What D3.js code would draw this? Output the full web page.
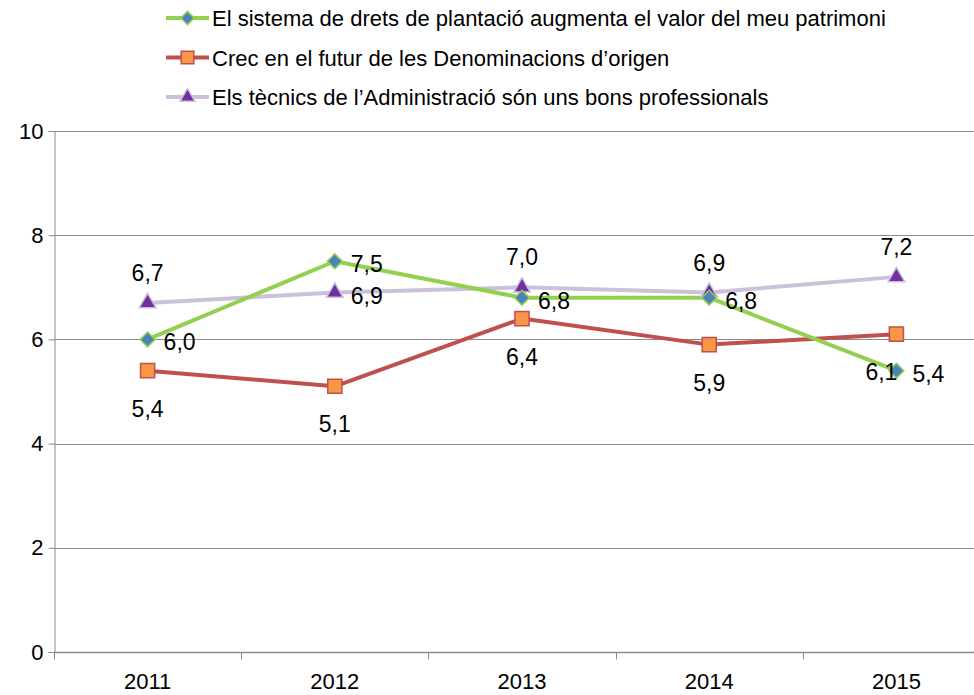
<!DOCTYPE html>
<html>
<head>
<meta charset="utf-8">
<script src="https://cdn.jsdelivr.net/npm/d3@7"></script>
<style>
  body { margin: 0; background: #fff; }
  svg { display: block; }
</style>
</head>
<body>
<div id="chart"></div>
<script>
var years = ["2011", "2012", "2013", "2014", "2015"];
var seriesNames = [
  "El sistema de drets de plantació augmenta el valor del meu patrimoni",
  "Crec en el futur de les Denominacions d\u2019origen",
  "Els tècnics de l\u2019Administració són uns bons professionals"
];
var plantacio = [6.0, 7.5, 6.8, 6.8, 5.4];
var denominacions = [5.4, 5.1, 6.4, 5.9, 6.1];
var tecnics = [6.7, 6.9, 7.0, 6.9, 7.2];
var yTicks = [0, 2, 4, 6, 8, 10];

var w = 974, h = 695;
var font = "Liberation Sans, Arial, sans-serif";

var svg = d3.select("#chart").append("svg").attr("width", w).attr("height", h);

var x = d3.scaleBand().domain(years).range([54, 990]).padding(0);
var y = d3.scaleLinear().domain([0, 10]).range([652, 131]);

// gridlines
svg.append("g").selectAll("line").data(yTicks.filter(function(d){ return d > 0; })).enter().append("line")
  .attr("x1", 54).attr("x2", w).attr("y1", function(d){ return Math.round(y(d)) + 0.5; }).attr("y2", function(d){ return Math.round(y(d)) + 0.5; })
  .style("stroke", "#8c8c8c").style("stroke-width", 1);

// y axis
var yAxis = svg.append("g").attr("transform", "translate(54.5,0)")
  .call(d3.axisLeft(y).tickValues(yTicks).tickSize(6).tickPadding(5).tickFormat(d3.format("d")));
yAxis.selectAll("path,line").style("stroke", "#8c8c8c");
yAxis.selectAll("text").style("font-family", font).style("font-size", "22px").style("fill", "#000");

// x axis
var xAxis = svg.append("g").attr("transform", "translate(0,652.5)");
xAxis.append("line").attr("x1", 54).attr("x2", w).attr("y1", 0).attr("y2", 0)
  .style("stroke", "#8c8c8c").style("stroke-width", 1.5);
xAxis.selectAll(".tk").data(years.concat(["end"])).enter().append("line")
  .attr("x1", function(d, i){ return Math.round(54 + i * x.bandwidth()) + 0.5; })
  .attr("x2", function(d, i){ return Math.round(54 + i * x.bandwidth()) + 0.5; })
  .attr("y1", 0).attr("y2", 7).style("stroke", "#8c8c8c");
xAxis.selectAll("text").data(years).enter().append("text")
  .attr("x", function(d){ return x(d) + x.bandwidth() / 2; }).attr("y", 36)
  .attr("text-anchor", "middle").text(function(d){ return d; })
  .style("font-family", font).style("font-size", "22px").style("fill", "#000");

var series = [
  { name: seriesNames[0], values: plantacio, line: "#92D050", fill: "#4F81BD", stroke: "#92D050", shape: d3.symbolSquare, rot: 45, size: 110, lab: "right" },
  { name: seriesNames[1], values: denominacions, line: "#C0504D", fill: "#F79646", stroke: "#C0504D", shape: d3.symbolSquare, rot: 0, size: 200, lab: "below" },
  { name: seriesNames[2], values: tecnics, line: "#CCC0DA", fill: "#7030A0", stroke: "#CCC0DA", shape: d3.symbolTriangle, rot: 0, size: 120, lab: "above" }
];

var cx = function(i){ return x(years[i]) + x.bandwidth() / 2; };

var lineGen = d3.line().x(function(d, i){ return cx(i); }).y(function(d){ return y(d); });

// draw order: purple behind, then red, then green
[2, 1, 0].forEach(function(k){
  var s = series[k];
  svg.append("path").datum(s.values).attr("d", lineGen)
    .style("fill", "none").style("stroke", s.line).style("stroke-width", 4).style("stroke-linejoin", "round");
});
[2, 1, 0].forEach(function(k){
  var s = series[k];
  svg.append("g").selectAll("path").data(s.values).enter().append("path")
    .attr("d", d3.symbol().type(s.shape).size(s.size))
    .attr("transform", function(d, i){ return "translate(" + cx(i) + "," + y(d) + ") rotate(" + s.rot + ")"; })
    .style("fill", s.fill).style("stroke", s.stroke).style("stroke-width", 1.5);
});

// data labels
var fmt = function(v){ return v.toFixed(1).replace(".", ","); };
series.forEach(function(s, k){
  var side = function(i){ return s.lab === "right" || (k === 2 && i === 1); };
  svg.append("g").selectAll("text").data(s.values).enter().append("text")
    .attr("x", function(d, i){
      if (side(i)) return cx(i) + 16;
      if (k === 1 && i === 4) return cx(i) - 15;
      return cx(i);
    })
    .attr("y", function(d, i){
      if (side(i)) return y(d) + 11;
      if (s.lab === "below") return y(d) + 46;
      return y(d) - 22;
    })
    .attr("text-anchor", function(d, i){ return side(i) ? "start" : "middle"; })
    .text(function(d){ return fmt(d); })
    .style("font-family", font).style("font-size", "23px").style("fill", "#000");
});

// legend
var legend = svg.append("g");
series.forEach(function(s, k){
  var ly = 18 + k * 39.5;
  legend.append("line").attr("x1", 166).attr("x2", 209).attr("y1", ly).attr("y2", ly)
    .style("stroke", s.line).style("stroke-width", 4);
  legend.append("path").attr("d", d3.symbol().type(s.shape).size(s.size * 0.8))
    .attr("transform", "translate(187.5," + ly + ") rotate(" + s.rot + ")")
    .style("fill", s.fill).style("stroke", s.stroke).style("stroke-width", 1.5);
  legend.append("text").attr("x", 212).attr("y", ly + 8).text(s.name)
    .style("font-family", font).style("font-size", "22px").style("fill", "#000");
});
</script>
</body>
</html>
